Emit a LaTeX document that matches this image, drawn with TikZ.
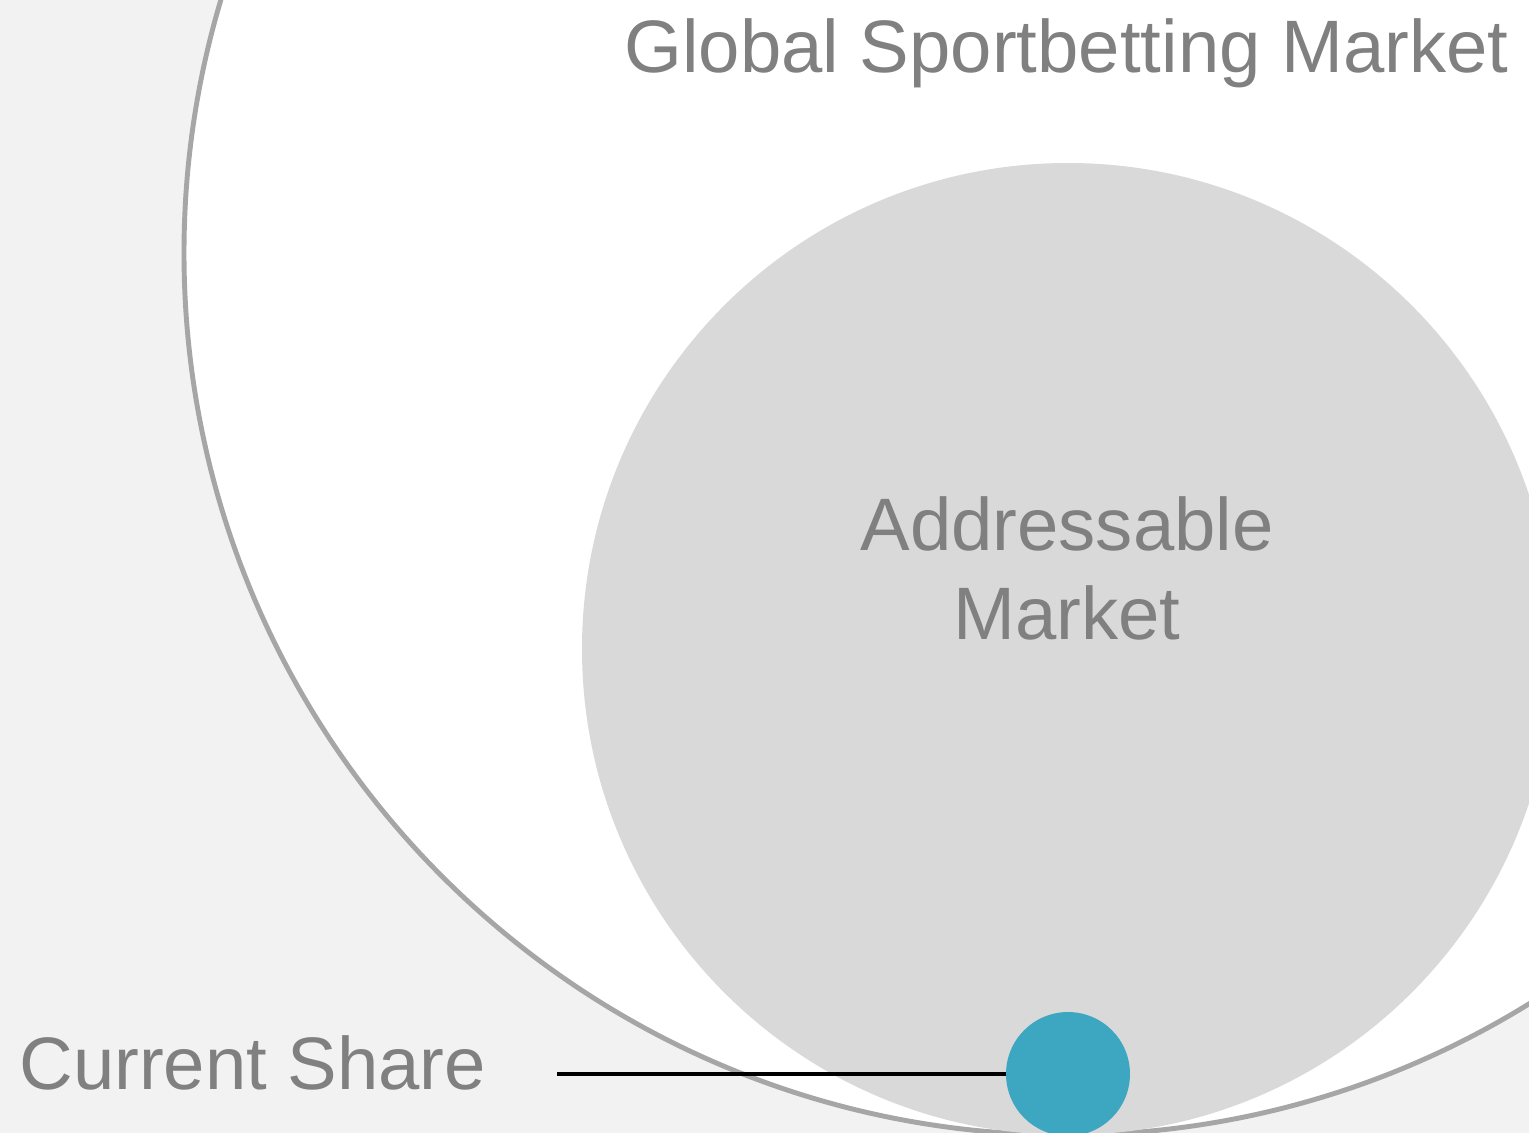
\documentclass[tikz,border=0pt]{standalone}
\usepackage{fontspec}
\setmainfont{Liberation Sans}
\definecolor{bgGray}{HTML}{F2F2F2}
\definecolor{ringGray}{HTML}{A6A6A6}
\definecolor{addrGray}{HTML}{D9D9D9}
\definecolor{labelGray}{HTML}{808080}
\definecolor{shareTeal}{HTML}{3DA7C1}
\begin{document}
\begin{tikzpicture}[x=0.02cm,y=-0.02cm,
    label/.style={text=labelGray,font=\fontsize{42.3pt}{50.6pt}\selectfont,inner sep=0pt}]
  \useasboundingbox (0,0) rectangle (1529,1133);
  \clip (0,0) rectangle (1529,1133);
  \fill[bgGray] (0,0) rectangle (1529,1133);
  \draw[ringGray,fill=white,line width=2.8pt] (1066,253) circle [radius=882];
  \fill[addrGray] (1068,649) circle [radius=486];
  \node[circle,fill=shareTeal,minimum size=2.48cm,inner sep=0pt] (share) at (1068,1074) {};
  \node[label,anchor=base east] (global) at (1509,72) {Global Sportbetting Market};
  \node[label,align=center,anchor=base] (addressable) at (1067,639) {Addressable\\Market};
  \node[label,anchor=base west] (current) at (19,1089) {Current Share};
  \coordinate (tick) at (557,1074);
  \draw[line width=2.6pt] (tick) -- (share.west);
\end{tikzpicture}
\end{document}
